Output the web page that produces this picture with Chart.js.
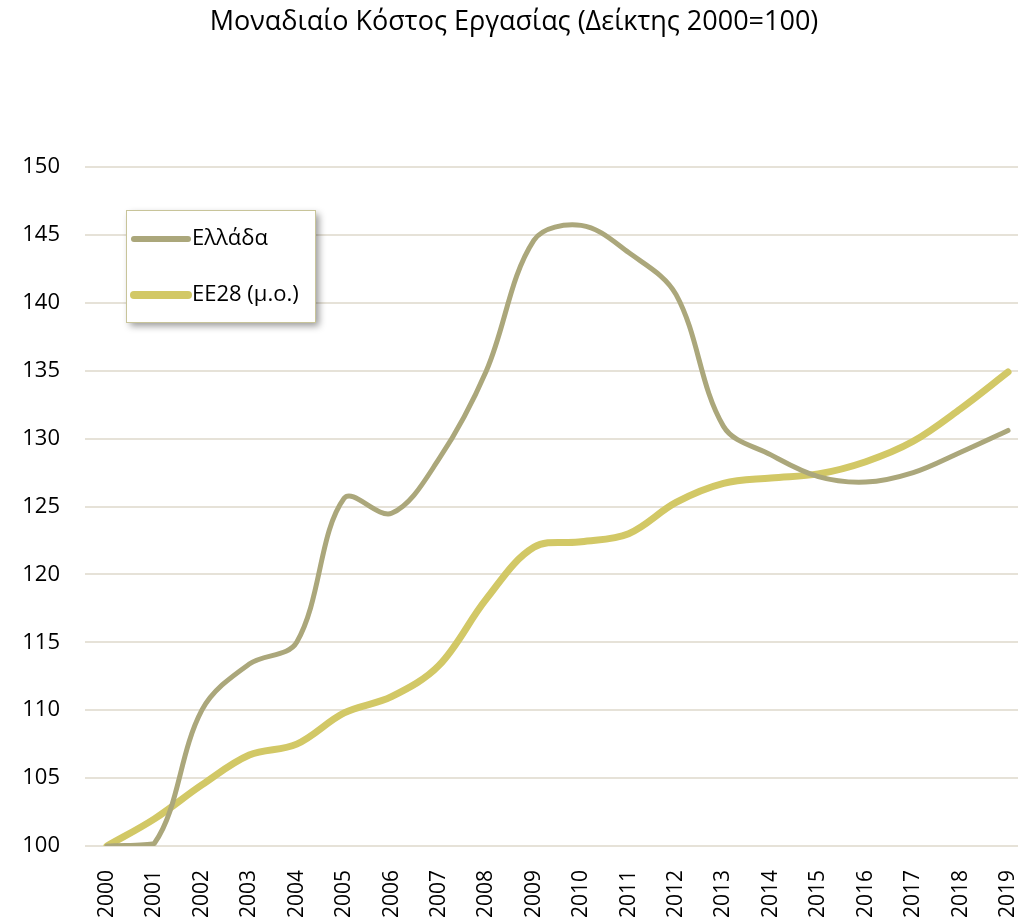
<!DOCTYPE html>
<html><head><meta charset="utf-8">
<script src="https://cdn.jsdelivr.net/npm/chart.js@4.4.0/dist/chart.umd.min.js"></script>
<style>html,body{margin:0;padding:0;background:#fff}#wrap{width:1018px;height:921px;position:relative}</style>
</head><body><div id="wrap"><canvas id="c" width="1018" height="921"></canvas></div>
<script>
const years = ['2000','2001','2002','2003','2004','2005','2006','2007','2008','2009','2010','2011','2012','2013','2014','2015','2016','2017','2018','2019'];
const greece = [100,100.2,110,113.4,115,125.6,124.5,128.5,135,144.6,145.7,143.7,140.6,130.9,128.8,127.2,126.8,127.5,129,130.6];
const eu28 = [100,102,104.5,106.7,107.5,109.8,111,113.3,118.2,122,122.4,123,125.3,126.7,127.1,127.4,128.3,129.8,132.2,134.9];
const title = 'Μοναδιαίο Κόστος Εργασίας (Δείκτης 2000=100)';
const labels = ['Ελλάδα','ΕΕ28 (μ.ο.)'];
const yTicks = [100,105,110,115,120,125,130,135,140,145,150];

const FONT = "'Open Sans', 'Noto Sans', sans-serif";
const toPoints = arr => arr.map((v, i) => ({ x: i, y: v }));

const legendPlugin = {
  id: 'boxLegend',
  afterDraw(chart) {
    const ctx = chart.ctx;
    const x = 126, y = 210, w = 189, h = 112;
    ctx.save();
    ctx.shadowColor = 'rgba(0,0,0,0.4)';
    ctx.shadowBlur = 7;
    ctx.shadowOffsetX = 4;
    ctx.shadowOffsetY = 4;
    ctx.fillStyle = '#fff';
    ctx.fillRect(x, y, w, h);
    ctx.restore();
    ctx.save();
    ctx.strokeStyle = '#c8c49a';
    ctx.lineWidth = 1;
    ctx.strokeRect(x + 0.5, y + 0.5, w, h);
    ctx.lineCap = 'round';
    ctx.font = '22px ' + FONT;
    ctx.textBaseline = 'middle';
    ctx.fillStyle = '#000';
    chart.data.datasets.forEach((ds, i) => {
      const ly = y + 29 + i * 56;
      ctx.strokeStyle = ds.borderColor;
      ctx.lineWidth = ds.borderWidth + 1;
      ctx.beginPath();
      ctx.moveTo(x + 8, ly);
      ctx.lineTo(x + 62, ly);
      ctx.stroke();
      ctx.fillText(ds.label, x + 66, ly);
    });
    ctx.restore();
  }
};

new Chart(document.getElementById('c'), {
  type: 'line',
  data: {
    datasets: [
      { label: labels[0], data: toPoints(greece), borderColor: '#aba77b', borderWidth: 5, pointRadius: 0, tension: 0.35, fill: false, borderCapStyle: 'round' },
      { label: labels[1], data: toPoints(eu28), borderColor: '#d2c866', borderWidth: 7, pointRadius: 0, tension: 0.35, fill: false, borderCapStyle: 'round' }
    ]
  },
  options: {
    responsive: false,
    animation: false,
    layout: { padding: { left: 10, right: 0, top: 0, bottom: 0 } },
    plugins: {
      legend: { display: false },
      tooltip: { enabled: false },
      title: { display: true, text: title, color: '#000', font: { family: FONT, size: 27, weight: 'normal' }, padding: { top: 6, bottom: 128.6 } }
    },
    scales: {
      x: {
        type: 'linear',
        min: -0.464, max: 19.21,
        afterBuildTicks(s) { s.ticks = years.map((y, i) => ({ value: i })); },
        grid: { display: false },
        border: { display: false },
        ticks: { color: '#000', font: { family: FONT, size: 21 }, maxRotation: 90, minRotation: 90, autoSkip: false, padding: 16,
                 callback: (v) => years[v] },
        afterFit(s) { s.height = 75; s.paddingLeft = 0; s.paddingRight = 0; }
      },
      y: {
        min: 100, max: 150,
        afterBuildTicks(s) { s.ticks = yTicks.map(v => ({ value: v })); },
        grid: { color: '#e6e2d8', lineWidth: 2, drawTicks: false },
        border: { display: false },
        ticks: { color: '#000', font: { family: FONT, size: 22 }, padding: 25 },
        afterFit(s) { s.width = 75; s.paddingTop = 0; s.paddingBottom = 0; }
      }
    }
  },
  plugins: [legendPlugin]
});
</script></body></html>
